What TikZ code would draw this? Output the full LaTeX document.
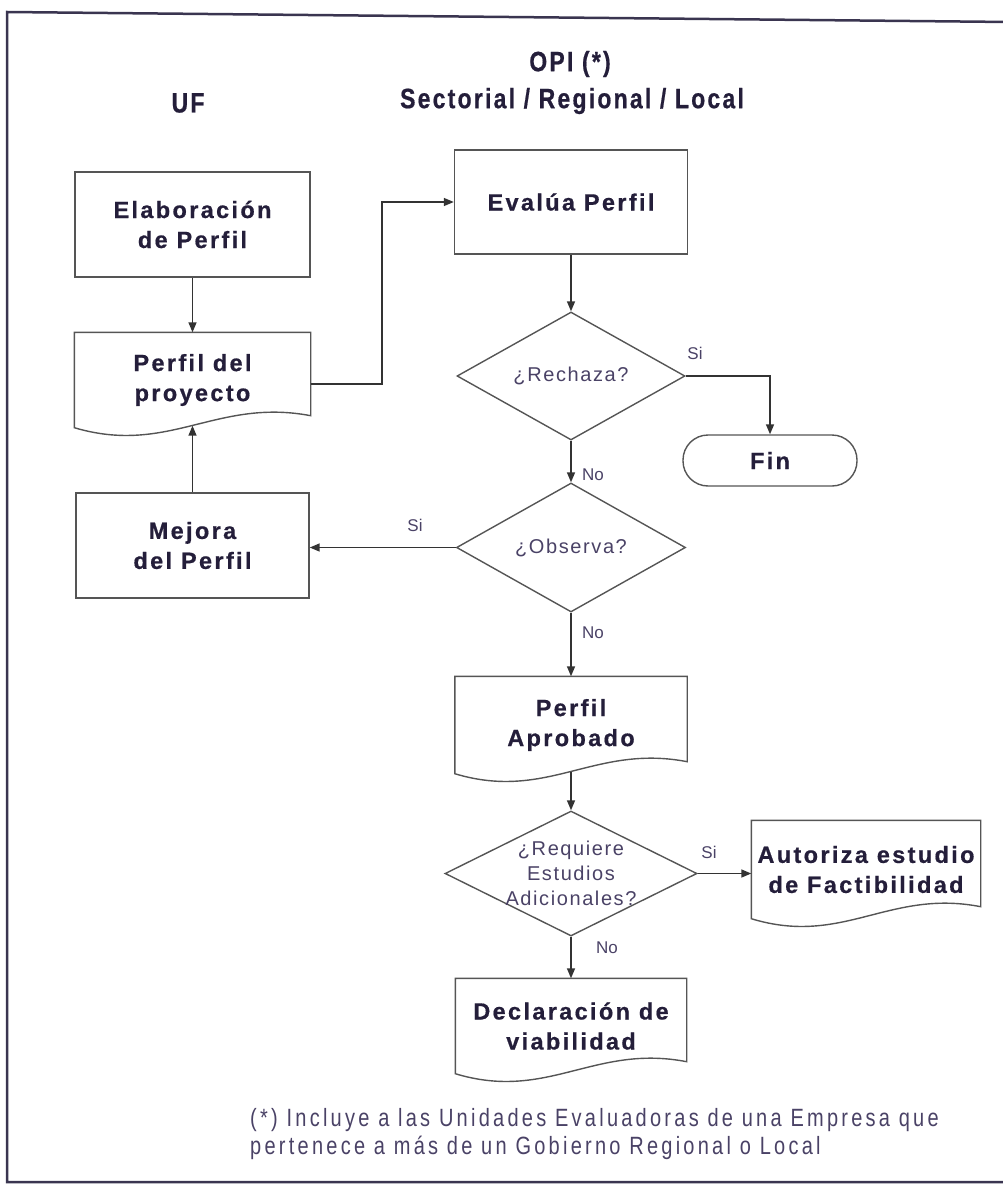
\documentclass[tikz,border=0pt]{standalone}
\usepackage{fontspec}
\setmainfont{Liberation Sans}
\newfontfamily\boxfont{Liberation Sans Bold}[LetterSpace=10,FakeBold=0.6]
\newfontfamily\titlefont{Liberation Sans Bold}[FakeStretch=0.82,LetterSpace=8,FakeBold=0.6]
\newfontfamily\notefont{Liberation Sans}[FakeStretch=0.8,LetterSpace=13]
\newfontfamily\dfont{Liberation Sans}[LetterSpace=8]
\usetikzlibrary{shapes.geometric,arrows.meta,calc}
\definecolor{txt}{HTML}{241E3A}
\definecolor{dtxt}{HTML}{4A4266}
\definecolor{ln}{HTML}{333333}
\definecolor{bd}{HTML}{555555}
\definecolor{fr}{HTML}{3A3550}
\newcommand\docshape[1]{%
  \draw[docline] (#1.south west) -- (#1.north west) -- (#1.north east) -- ($(#1.south east)+(0,-12)$)
    .. controls ($(#1.south west)!0.6!(#1.south east)+(0,-30)$) and ($(#1.south west)!0.4!(#1.south east)+(0,28)$) .. (#1.south west) -- cycle;
  \coordinate (#1-b) at ($(#1.south)+(0,-2)$);}
\begin{document}
\begin{tikzpicture}[x=1pt,y=-1pt,
  rect/.style={draw=bd,line width=1.4pt,inner sep=0pt,align=center,text=txt,
     font=\boxfont\fontsize{23.5}{30}\selectfont},
  docn/.style={rect,draw=none},
  docline/.style={draw=bd,line width=1.4pt},
  dia/.style={diamond,draw=bd,line width=1.4pt,inner sep=0pt},
  dtext/.style={text=dtxt,align=center,inner sep=0pt,font=\dfont\fontsize{20}{25}\selectfont},
  lbl/.style={text=dtxt,inner sep=0pt,font=\fontsize{17}{20}\selectfont},
  title/.style={text=txt,inner sep=0pt,font=\titlefont\fontsize{28}{30}\selectfont},
  note/.style={text=dtxt,inner sep=0pt,anchor=west,font=\notefont\fontsize{25}{28}\selectfont},
  arr/.style={draw=ln,line width=1.5pt,-{Triangle[length=10pt,width=8pt]}},
  frame/.style={draw=fr,line width=2.5pt}]
\useasboundingbox (0,0) rectangle (1002,1185);
% frame
\draw[frame] (1010,22) -- (7,12) -- (7,1182) -- (1010,1182);
% titles
\node[title] (opi) at (570,64) {OPI (*)};
\node[title] (sec) at (572,101) {Sectorial / Regional / Local};
\node[title] (uf) at (188,103) {UF};
% UF column
\node[rect,minimum width=235pt,minimum height=105pt] (elab) at (192.5,224.5) {Elaboración\\de Perfil};
\node[docn,minimum width=235pt,minimum height=94pt] (proy) at (192.5,380) {Perfil del\\proyecto};
\docshape{proy}
\node[rect,minimum width=233pt,minimum height=105pt] (mej) at (192.5,545.5) {Mejora\\del Perfil};
% OPI column
\node[rect,minimum width=233pt,minimum height=104pt] (eval) at (571,202) {Evalúa Perfil};
\node[dia,minimum width=228pt,minimum height=128pt] (rech) at (571,376) {};
\node[dtext] (rechT) at (rech) {¿Rechaza?};
\node[rect,rounded corners=25pt,minimum width=174pt,minimum height=51pt] (fin) at (770,460.5) {Fin};
\node[dia,minimum width=229pt,minimum height=129pt] (obs) at (571,547.5) {};
\node[dtext] (obsT) at (obs) {¿Observa?};
\node[docn,minimum width=231pt,minimum height=96pt] (aprob) at (571,725) {Perfil\\Aprobado};
\docshape{aprob}
\node[dia,minimum width=252pt,minimum height=125pt] (req) at (571,873.5) {};
\node[dtext] (reqT) at (req) {¿Requiere\\Estudios\\Adicionales?};
\node[docn,minimum width=228pt,minimum height=97pt] (aut) at (866,869.5) {Autoriza estudio\\de Factibilidad};
\docshape{aut}
\node[docn,minimum width=230pt,minimum height=94pt] (decl) at (571,1026) {Declaración de\\viabilidad};
\docshape{decl}
% connectors
\coordinate (j1) at (382,300);
\coordinate (pe) at ($(proy.north east)!0.54!(proy.south east)$);
\draw[arr] (elab.south) -- (proy.north);
\draw[arr] (mej.north) -- (proy-b);
\draw[arr] (pe) -| (j1) |- (eval.west);
\draw[arr] (eval.south) -- (rech.north);
\draw[arr] (rech.east) -| (fin.north);
\draw[arr] (rech.south) -- (obs.north);
\draw[arr] (obs.west) -- (obs.west -| mej.east);
\draw[arr] (obs.south) -- (aprob.north);
\draw[arr] (aprob-b) -- (req.north);
\draw[arr] (req.east) -- (req.east -| aut.west);
\draw[arr] (req.south) -- (decl.north);
% labels
\node[lbl] (l1) at (695,353) {Si};
\node[lbl] (l2) at (593,475) {No};
\node[lbl] (l3) at (415,525) {Si};
\node[lbl] (l4) at (593,633) {No};
\node[lbl] (l5) at (709,852) {Si};
\node[lbl] (l6) at (607,948) {No};
% footnote
\node[note] (fn1) at (250,1120) {(*) Incluye a las Unidades Evaluadoras de una Empresa que};
\node[note] (fn2) at (250,1148) {pertenece a más de un Gobierno Regional o Local};
\end{tikzpicture}
\end{document}
